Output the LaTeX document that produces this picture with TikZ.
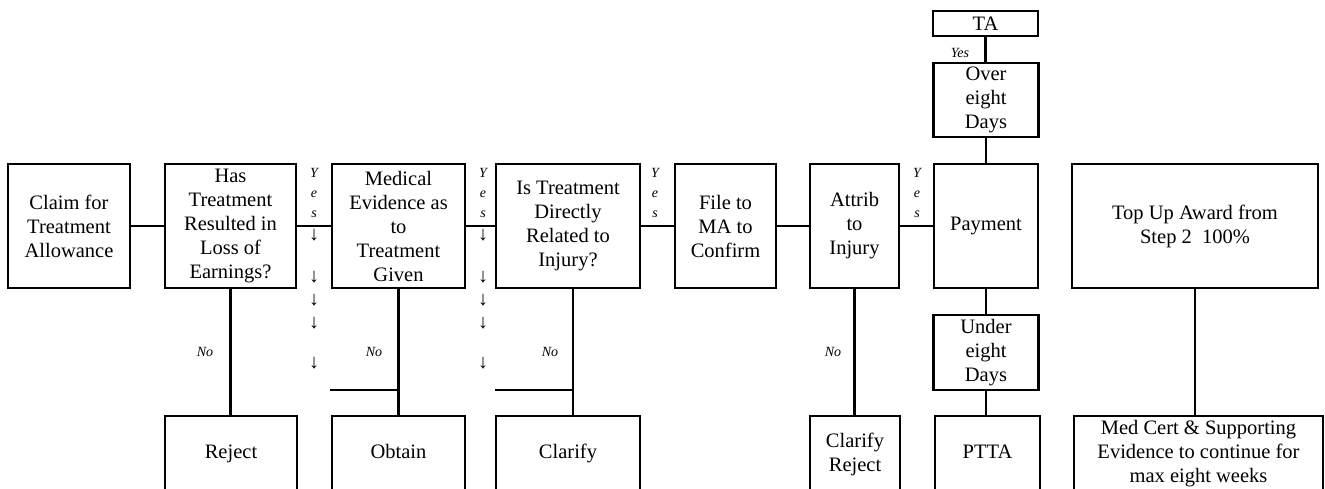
\documentclass[tikz,border=0pt]{standalone}
\usepackage{fontspec}
\setmainfont{Liberation Serif}
\begin{document}
\begin{tikzpicture}[x=1pt,y=-1pt,
 box/.style={draw, line width=2.2pt, align=center, inner sep=0pt, font=\fontsize{20.5}{24}\selectfont},
 conn/.style={line width=2.2pt},
 lbl/.style={font=\fontsize{14}{16}\selectfont\itshape, inner sep=0pt},
 yesv/.style={align=center, font=\fontsize{14}{20}\selectfont\itshape, inner sep=0pt},
 arr/.style={font=\fontsize{20}{22}\selectfont, inner sep=0pt}]
\useasboundingbox (0,0) rectangle (1325,488);
\clip (0,0) rectangle (1325,488);
% top row
\node[box, minimum width=122, minimum height=124] (claim) at (69,226) {Claim for\\Treatment\\Allowance};
\node[box, minimum width=131, minimum height=124] (has) at (230.5,226) {Has\\Treatment\\Resulted in\\Loss of\\Earnings?};
\node[box, minimum width=133, minimum height=124] (med) at (398.5,226) {Medical\\Evidence as\\to\\Treatment\\Given};
\node[box, minimum width=144, minimum height=124] (is) at (568,226) {Is Treatment\\Directly\\Related to\\Injury?};
\node[box, minimum width=101, minimum height=124] (file) at (725.5,226) {File to\\MA to\\Confirm};
\node[box, minimum width=89, minimum height=124] (attrib) at (854.5,226) {Attrib\\to\\Injury};
\node[box, minimum width=104, minimum height=124] (pay) at (986,226) {\strut Payment};
\node[box, minimum width=246, minimum height=124] (topup) at (1195,226) {Top Up Award from\\Step 2\ \ 100\%};
% upper column
\node[box, minimum width=105, minimum height=25] (ta) at (985.5,23.5) {TA};
\node[box, minimum width=105, minimum height=74] (over) at (986,100) {Over\\eight\\Days};
\node[box, minimum width=105, minimum height=75] (under) at (986,352.5) {Under\\eight\\Days};
% bottom row
\node[box, minimum width=132, minimum height=76] (reject) at (231,454) {\strut Reject};
\node[box, minimum width=133, minimum height=76] (obtain) at (398.5,454) {\strut Obtain};
\node[box, minimum width=144, minimum height=76] (clar) at (568,454) {\strut Clarify};
\node[box, minimum width=90, minimum height=76] (clarrej) at (855,454) {Clarify\\Reject};
\node[box, minimum width=105, minimum height=76] (ptta) at (987.5,454) {\strut PTTA};
\node[box, minimum width=249, minimum height=76] (medcert) at (1198.5,454) {Med Cert \& Supporting\\Evidence to continue for\\max eight weeks};
% horizontal connectors
\draw[conn] (claim.east) -- (has.west);
\draw[conn] (has.east) -- (med.west);
\draw[conn] (med.east) -- (is.west);
\draw[conn] (is.east) -- (file.west);
\draw[conn] (file.east) -- (attrib.west);
\draw[conn] (attrib.east) -- (pay.west);
% vertical connectors
\draw[conn] (has.south) -- (has.south |- reject.north);
\draw[conn] (med.south) -- (med.south |- obtain.north);
\coordinate (iscol) at ([xshift=5pt]is.south);
\draw[conn] (iscol) -- (iscol |- clar.north);
\draw[conn] (attrib.south) -- (attrib.south |- clarrej.north);
\draw[conn] (ta.south) -- (ta.south |- over.north);
\draw[conn] (over.south) -- (over.south |- pay.north);
\draw[conn] (pay.south) -- (pay.south |- under.north);
\draw[conn] (under.south) -- (under.south |- ptta.north);
\draw[conn] (topup.south) -- (topup.south |- medcert.north);
% stubs
\coordinate (mstub) at (330,390);
\draw[conn] (mstub) -- (mstub -| med.south);
\coordinate (cstub) at (495,390);
\draw[conn] (cstub) -- (cstub -| iscol);
% labels
\node[yesv] (y1) at (314,193) {Y\\e\\s};
\node[yesv] (y2) at (483,193) {Y\\e\\s};
\node[yesv] (y3) at (655,193) {Y\\e\\s};
\node[yesv] (y4) at (917,193) {Y\\e\\s};
\node[lbl] (yta) at (960,53) {Yes};
\node[lbl] (n1) at (205,352) {No};
\node[lbl] (n2) at (374,352) {No};
\node[lbl] (n3) at (550,352) {No};
\node[lbl] (n4) at (833,352) {No};
\foreach \yy [count=\i] in {235,277,300,323,363}{
  \node[arr] (aa\i) at (314,\yy) {↓};
  \node[arr] (ab\i) at (483,\yy) {↓};
}
\end{tikzpicture}
\end{document}
